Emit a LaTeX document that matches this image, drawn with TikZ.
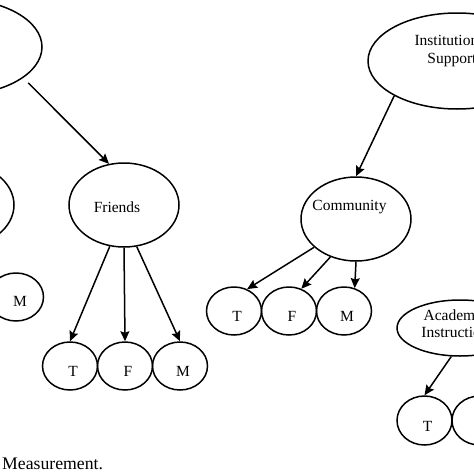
\documentclass[tikz,border=0pt]{standalone}
\usepackage{fontspec}
\setmainfont{Liberation Serif}
\usetikzlibrary{shapes.geometric,arrows.meta}
\begin{document}
\begin{tikzpicture}[x=1pt,y=-1pt,
  oval/.style={draw, ellipse, line width=1.5pt, inner sep=0pt},
  big/.style={oval, minimum width=110pt, minimum height=84pt},
  small/.style={oval, minimum width=55pt, minimum height=48pt},
  lbl/.style={font=\fontsize{15.5}{17.5}\selectfont, inner sep=0pt, align=center},
  captext/.style={font=\fontsize{17.7}{20}\selectfont, inner sep=0pt, anchor=base west},
  arr/.style={line width=1.5pt, -{Stealth[length=10pt,width=9pt,inset=1.5pt]}},
]
\useasboundingbox (0,0) rectangle (474,474);
\clip (0,0) rectangle (474,474);

% top level
\node[oval, minimum width=170pt, minimum height=96pt] (social) at (-43,47) {};
\node[oval, minimum width=178pt, minimum height=96pt] (inst) at (457,61) {};
\node[lbl] (instL) at (452,51) {Institutional\\Support};

% second level
\node[big] (family) at (-41,205) {};
\node[big] (friends) at (124,205) {};
\node[lbl] (friendsL) at (117,207.5) {Friends};
\node[big] (community) at (356,219) {};
\node[lbl] (communityL) at (349.5,207) {Community};
\node[oval, minimum width=126pt, minimum height=56pt] (acad) at (460,328) {};
\node[lbl] (acadL) at (455,323.5) {Academic\\Instruction};

% left partial M
\node[small] (m0) at (16,297) {};
\node[lbl] (m0L) at ([shift={(4,4.5)}]m0.center) {M};

% friends T F M
\node[small] (t1) at (70,366) {};
\node[small] (f1) at (125,366) {};
\node[small] (m1) at (180,366) {};
\node[lbl] (t1L) at ([shift={(3,5)}]t1.center) {T};
\node[lbl] (f1L) at ([shift={(3,5)}]f1.center) {F};
\node[lbl] (m1L) at ([shift={(3,5)}]m1.center) {M};

% community T F M
\node[small] (t2) at (234,311) {};
\node[small] (f2) at (289,311) {};
\node[small] (m2) at (344,311) {};
\node[lbl] (t2L) at ([shift={(3,5)}]t2.center) {T};
\node[lbl] (f2L) at ([shift={(3,5)}]f2.center) {F};
\node[lbl] (m2L) at ([shift={(3,5)}]m2.center) {M};

% academic T F
\node[small, minimum height=49pt] (t3) at (424.5,420.5) {};
\node[small, minimum height=49pt] (f3) at (479.5,420.5) {};
\node[lbl] (t3L) at ([shift={(3,6)}]t3.center) {T};

% caption
\node[captext] (caption) at (2,469) {Measurement.};

% connectors
\draw[arr, shorten <=7pt] (social.335.6) -- (friends.110);
\draw[arr] (friends.251) -- (t1.north);
\draw[arr] (friends.south) -- (f1.north);
\draw[arr] (friends.287.6) -- (m1.north);
\draw[arr] (inst.209) -- (community.north);
\draw[arr] (community.214) -- (t2.59.7);
\draw[arr] (community.236.6) -- (f2.61.6);
\draw[arr] (community.south) -- (m2.65);
\draw[arr] (acad.253.5) -- (t3.north);
\end{tikzpicture}
\end{document}
